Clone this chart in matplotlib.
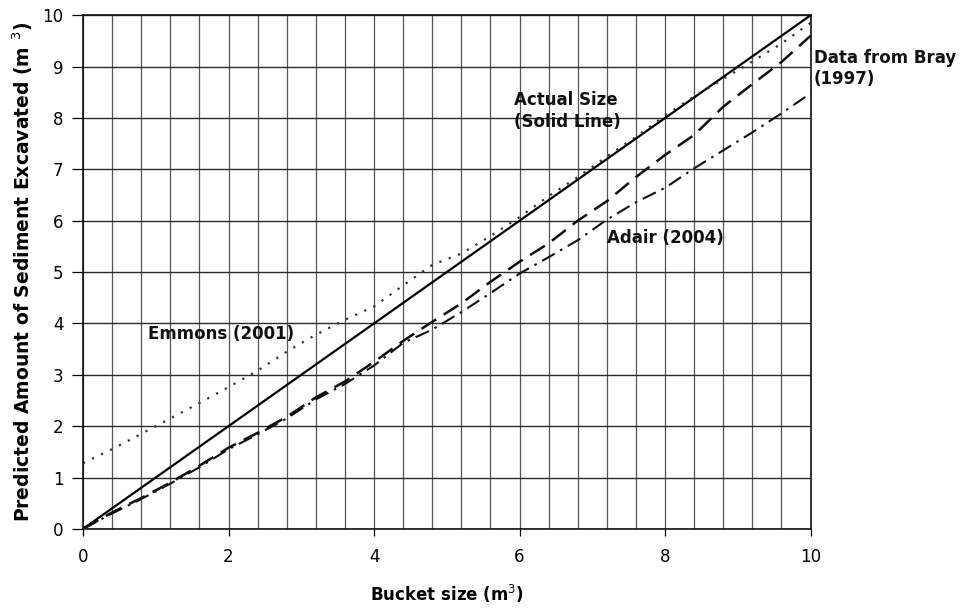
import numpy as np
import matplotlib
matplotlib.use("Agg")
import matplotlib.pyplot as plt
from matplotlib.ticker import MultipleLocator

plt.rcParams['font.family'] = ['DejaVu Sans']

# bucket sizes (m^3) where the curves were sampled
bucket = [0.0, 0.4, 0.8, 1.2, 1.6, 2.0, 2.4, 2.8, 3.2, 3.6, 4.0, 4.4, 4.8,
          5.2, 5.6, 6.0, 6.4, 6.8, 7.2, 7.6, 8.0, 8.4, 8.8, 9.2, 9.6, 10.0]

actual = [0.0, 10.0]
actual_x = [0.0, 10.0]

emmons = [1.28, 1.55, 1.85, 2.15, 2.45, 2.76, 3.08, 3.45, 3.78, 4.07, 4.33,
          4.74, 5.14, 5.36, 5.70, 6.07, 6.48, 6.85, 7.25, 7.63, 8.05, 8.42,
          8.76, 9.10, 9.45, 9.85]

bray = [0.0, 0.32, 0.60, 0.90, 1.23, 1.58, 1.87, 2.18, 2.56, 2.87, 3.25,
        3.66, 4.03, 4.39, 4.81, 5.20, 5.56, 6.00, 6.38, 6.85, 7.28, 7.67,
        8.22, 8.66, 9.09, 9.60]

adair = [0.0, 0.30, 0.58, 0.88, 1.20, 1.55, 1.84, 2.15, 2.52, 2.82, 3.18,
         3.62, 3.88, 4.22, 4.59, 4.97, 5.29, 5.62, 6.02, 6.36, 6.64, 7.02,
         7.37, 7.72, 8.09, 8.48]

fig = plt.figure(figsize=(9.65, 6.1), dpi=100)
ax = fig.add_axes([0.086, 0.133, 0.754, 0.842])

# grid: vertical every 0.4, horizontal every 1
ax.xaxis.set_major_locator(MultipleLocator(2))
ax.xaxis.set_minor_locator(MultipleLocator(0.4))
ax.yaxis.set_major_locator(MultipleLocator(1))
ax.grid(which='minor', axis='x', color='#555555', linewidth=0.9)
ax.grid(which='major', axis='x', color='#555555', linewidth=0.9)
ax.grid(which='major', axis='y', color='#2a2a2a', linewidth=1.0)
ax.set_axisbelow(True)

ax.plot(actual_x, actual, color='black', linewidth=1.6, linestyle='-')
ax.plot(bucket, emmons, color='#333333', linewidth=1.6, linestyle=(0, (1, 3.5)))
ax.plot(bucket, bray, color='#111111', linewidth=1.8, linestyle=(0, (7, 3.5)))
ax.plot(bucket, adair, color='#111111', linewidth=1.5,
        linestyle=(0, (7, 3, 1.2, 3)))

ax.set_xlim(0, 10)
ax.set_ylim(0, 10)

ax.tick_params(axis='x', which='major', direction='out', length=5, width=0.9,
               pad=9, labelsize=12)
ax.tick_params(axis='x', which='minor', length=0)
ax.tick_params(axis='y', direction='out', length=8, width=0.9, pad=6,
               labelsize=12)
for s in ax.spines.values():
    s.set_linewidth(1.2)
    s.set_color('#111111')

ax.set_xlabel('Bucket size (m$^3$)', fontsize=12, fontweight='bold')
ax.xaxis.set_label_coords(0.5, -0.105)
ax.set_ylabel('Predicted Amount of Sediment Excavated (m $^3$)', fontsize=13.5,
              fontweight='bold', labelpad=5)

txt = dict(fontsize=12, fontweight='bold', color='#111111')
ax.text(0.89, 3.79, 'Emmons (2001)', ha='left', va='center', **txt)
ax.text(5.93, 8.14, 'Actual Size\n(Solid Line)', ha='left', va='center',
        linespacing=1.25, **txt)
ax.text(7.2, 5.66, 'Adair (2004)', ha='left', va='center', **txt)
ax.text(10.04, 8.97, 'Data from Bray\n(1997)', ha='left', va='center',
        linespacing=1.2, clip_on=False, **txt)

fig.savefig('out.png', dpi=100)
